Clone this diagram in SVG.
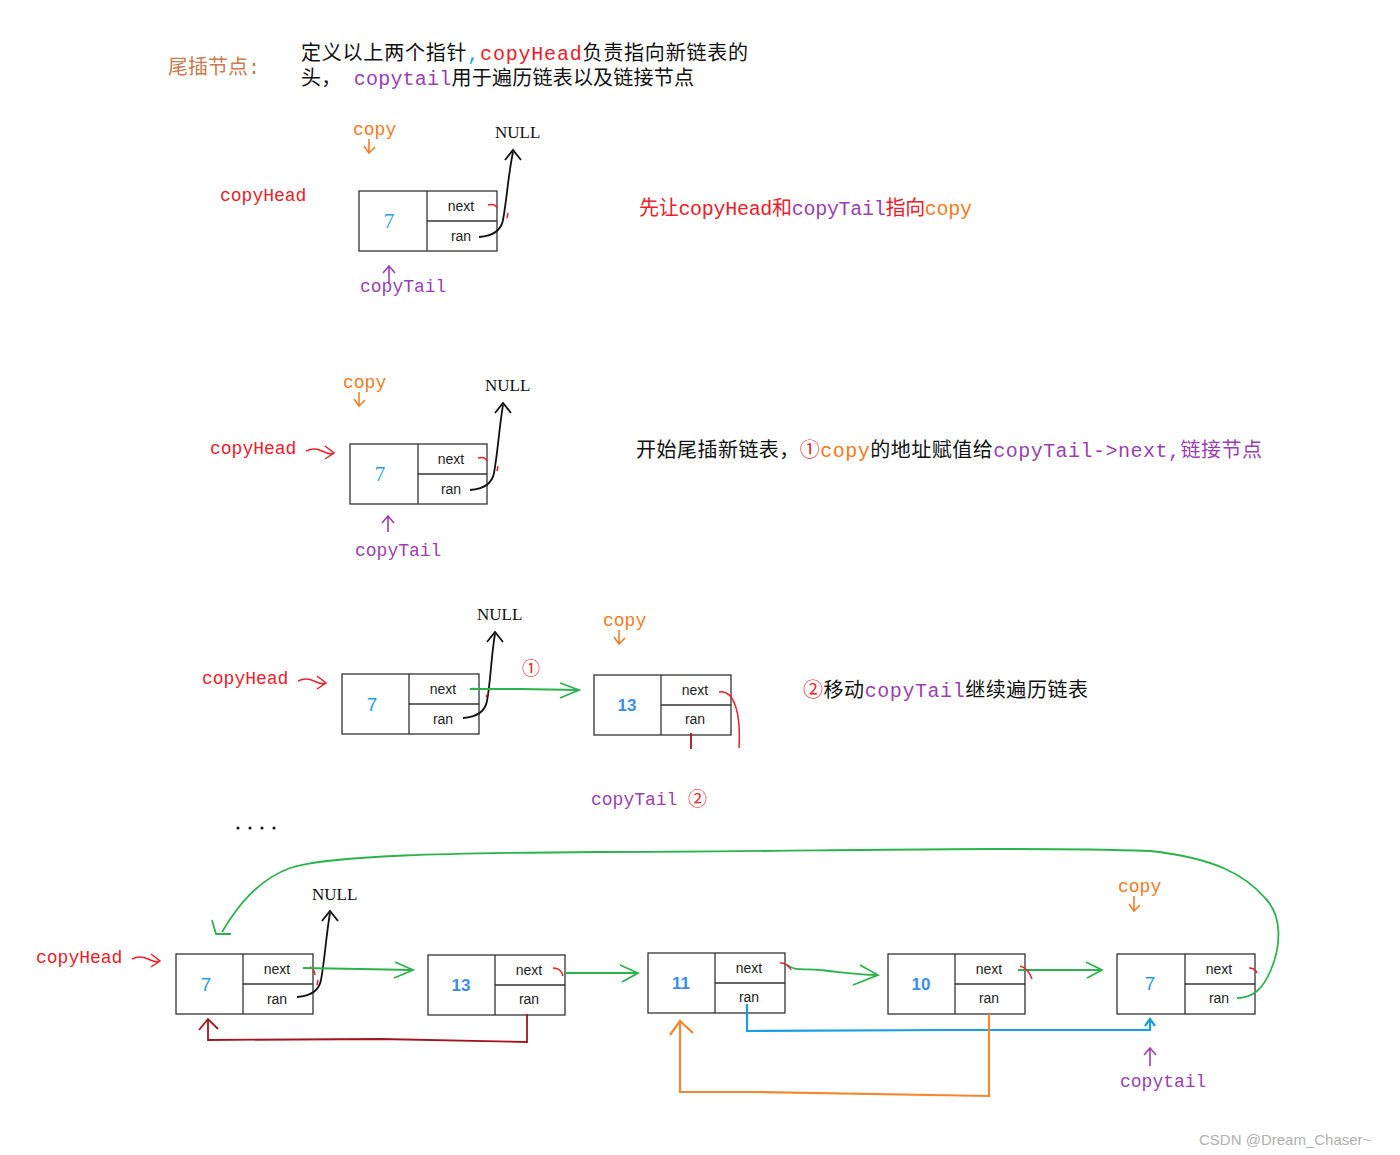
<svg xmlns="http://www.w3.org/2000/svg" width="1400" height="1155" viewBox="0 0 1400 1155">
<defs>
<style>
.cn{font-family:"Liberation Mono","Noto Sans CJK SC",monospace;}
.lbl{font-family:"Liberation Mono","Noto Sans CJK SC",monospace;font-size:18px;}
.null{font-family:"Liberation Serif",serif;font-size:17px;fill:#111;}
.fld{font-family:"Liberation Sans",sans-serif;font-size:14px;fill:#222;text-anchor:middle;}
.v7{font-family:"Liberation Serif",serif;font-size:21px;fill:#1f9ee0;text-anchor:middle;}
.num{font-family:"Liberation Sans",sans-serif;font-size:17px;font-weight:bold;fill:#3a8ee8;text-anchor:middle;}
.box{fill:#fff;stroke:#333;stroke-width:1.3;}
.div{stroke:#333;stroke-width:1.3;}
.red{fill:#e8202a;}
.pur{fill:#9a3fb0;}
.org{fill:#f07a20;}
.blk{fill:#111;}
.c-blk{fill:none;stroke:#111;stroke-width:1.8;}
.c-grn{fill:none;stroke:#2bb24c;stroke-width:1.8;}
.c-red{fill:none;stroke:#e8202a;stroke-width:1.5;}
.c-drd{fill:none;stroke:#a3151c;stroke-width:1.8;}
.c-org{fill:none;stroke:#f5872e;stroke-width:2.2;}
.c-blu{fill:none;stroke:#1a9ee2;stroke-width:2.2;}
.c-pur{fill:none;stroke:#9a3fb0;stroke-width:1.6;}
.c-ora{fill:none;stroke:#f07a20;stroke-width:1.5;}
</style>
</defs>

<!-- header -->
<g id="title">
<text x="168" y="74" class="cn" font-size="20" fill="#c87a50">尾插节点:</text>
<text x="301" y="60" class="cn" font-size="20" textLength="447"><tspan class="blk">定义以上两个指针</tspan><tspan fill="#1f9ee0">,</tspan><tspan class="red">copyHead</tspan><tspan class="blk">负责指向新链表的</tspan></text>
<text x="301" y="85" class="cn" font-size="20" textLength="393"><tspan class="blk">头， </tspan><tspan class="pur">copytail</tspan><tspan class="blk">用于遍历链表以及链接节点</tspan></text>
</g>

<!-- ===== Diagram 1 ===== -->
<g id="d1-node">
<rect x="359" y="191" width="138" height="60" class="box"/>
<line x1="427" y1="191" x2="427" y2="251" class="div"/>
<line x1="427" y1="221" x2="497" y2="221" class="div"/>
<text x="389" y="228" class="v7">7</text>
<text x="461" y="211" class="fld">next</text>
<text x="461" y="241" class="fld">ran</text>
</g>
<g id="d1-labels">
<text x="353" y="135" class="lbl org">copy</text>
<text x="495" y="138" class="null">NULL</text>
<text x="220" y="201" class="lbl red">copyHead</text>
<text x="360" y="292" class="lbl pur">copyTail</text>
<text x="639" y="215" class="cn" font-size="20" textLength="333"><tspan class="red">先让copyHead和</tspan><tspan class="pur">copyTail</tspan><tspan class="red">指向</tspan><tspan class="org">copy</tspan></text>
</g>

<!-- ===== Diagram 2 ===== -->
<g id="d2-node">
<rect x="350" y="444" width="137" height="60" class="box"/>
<line x1="418" y1="444" x2="418" y2="504" class="div"/>
<line x1="418" y1="474" x2="487" y2="474" class="div"/>
<text x="380" y="481" class="v7">7</text>
<text x="451" y="464" class="fld">next</text>
<text x="451" y="494" class="fld">ran</text>
</g>
<g id="d2-labels">
<text x="343" y="388" class="lbl org">copy</text>
<text x="485" y="391" class="null">NULL</text>
<text x="210" y="454" class="lbl red">copyHead</text>
<text x="355" y="556" class="lbl pur">copyTail</text>
<text x="636" y="457" class="cn" font-size="20" textLength="626"><tspan class="blk">开始尾插新链表，</tspan><tspan class="red">①</tspan><tspan class="org">copy</tspan><tspan class="blk">的地址赋值给</tspan><tspan class="pur">copyTail-&gt;next,链接节点</tspan></text>
</g>

<!-- ===== Diagram 3 ===== -->
<g id="d3-node7">
<rect x="342" y="674" width="137" height="60" class="box"/>
<line x1="409" y1="674" x2="409" y2="734" class="div"/>
<line x1="409" y1="704" x2="479" y2="704" class="div"/>
<text x="372" y="711" class="v7" style="font-family:'Liberation Sans',sans-serif;font-size:19px">7</text>
<text x="443" y="694" class="fld">next</text>
<text x="443" y="724" class="fld">ran</text>
</g>
<g id="d3-node13">
<rect x="594" y="675" width="137" height="60" class="box"/>
<line x1="661" y1="675" x2="661" y2="735" class="div"/>
<line x1="661" y1="705" x2="731" y2="705" class="div"/>
<text x="627" y="711" class="num">13</text>
<text x="695" y="695" class="fld">next</text>
<text x="695" y="724" class="fld">ran</text>
</g>
<g id="d3-labels">
<text x="477" y="620" class="null">NULL</text>
<text x="603" y="626" class="lbl org">copy</text>
<text x="202" y="684" class="lbl red">copyHead</text>
<text x="522" y="675" class="cn red" font-size="18">①</text>
<text x="591" y="805" class="lbl pur">copyTail</text>
<text x="688" y="806" class="cn red" font-size="19">②</text>
<text x="803" y="697" class="cn" font-size="20" textLength="285"><tspan class="red">②</tspan><tspan class="blk">移动</tspan><tspan class="pur">copyTail</tspan><tspan class="blk">继续遍历链表</tspan></text>
</g>

<!-- dots -->
<g id="ellipsis" fill="#111">
<circle cx="238" cy="828" r="1.5"/><circle cx="250" cy="828" r="1.5"/><circle cx="262" cy="828" r="1.5"/><circle cx="274" cy="828" r="1.5"/>
</g>

<!-- ===== Bottom diagram ===== -->
<g id="b-nodeA">
<rect x="176" y="954" width="137" height="60" class="box"/>
<line x1="243" y1="954" x2="243" y2="1014" class="div"/>
<line x1="243" y1="984" x2="313" y2="984" class="div"/>
<text x="206" y="991" class="v7" style="font-family:'Liberation Sans',sans-serif;font-size:19px">7</text>
<text x="277" y="974" class="fld">next</text>
<text x="277" y="1004" class="fld">ran</text>
</g>
<g id="b-nodeB">
<rect x="428" y="955" width="137" height="60" class="box"/>
<line x1="495" y1="955" x2="495" y2="1015" class="div"/>
<line x1="495" y1="985" x2="565" y2="985" class="div"/>
<text x="461" y="991" class="num">13</text>
<text x="529" y="975" class="fld">next</text>
<text x="529" y="1004" class="fld">ran</text>
</g>
<g id="b-nodeC">
<rect x="648" y="953" width="137" height="60" class="box"/>
<line x1="715" y1="953" x2="715" y2="1013" class="div"/>
<line x1="715" y1="983" x2="785" y2="983" class="div"/>
<text x="681" y="989" class="num">11</text>
<text x="749" y="973" class="fld">next</text>
<text x="749" y="1002" class="fld">ran</text>
</g>
<g id="b-nodeD">
<rect x="888" y="954" width="137" height="60" class="box"/>
<line x1="955" y1="954" x2="955" y2="1014" class="div"/>
<line x1="955" y1="984" x2="1025" y2="984" class="div"/>
<text x="921" y="990" class="num">10</text>
<text x="989" y="974" class="fld">next</text>
<text x="989" y="1003" class="fld">ran</text>
</g>
<g id="b-nodeE">
<rect x="1117" y="954" width="138" height="60" class="box"/>
<line x1="1185" y1="954" x2="1185" y2="1014" class="div"/>
<line x1="1185" y1="984" x2="1255" y2="984" class="div"/>
<text x="1150" y="990" class="v7" style="font-family:'Liberation Sans',sans-serif;font-size:19px">7</text>
<text x="1219" y="974" class="fld">next</text>
<text x="1219" y="1003" class="fld">ran</text>
</g>
<g id="b-labels">
<text x="312" y="900" class="null">NULL</text>
<text x="36" y="963" class="lbl red">copyHead</text>
<text x="1118" y="892" class="lbl org">copy</text>
<text x="1120" y="1087" class="lbl pur">copytail</text>
</g>

<!-- ===== Connectors ===== -->
<g id="connectors">
<!-- diagram 1 -->
<path d="M369,139 L369,153 M364,146 L369,153 L375,147" class="c-ora"/>
<path d="M479,237 C493,236 501,231 503,220 C507,198 508,176 513,152" class="c-blk"/>
<path d="M505,160 L513,150 L521,160" class="c-blk"/>
<path d="M488,205 Q495,203 497,208 M508,213 L507,218" class="c-red"/>
<path d="M389,284 L389,267 M383,273 L389,266 L395,273" class="c-pur"/>
<!-- diagram 2 -->
<path d="M359,392 L359,406 M354,399 L359,406 L365,400" class="c-ora"/>
<path d="M470,490 C484,489 492,484 494,473 C498,451 499,429 503,405" class="c-blk"/>
<path d="M495,413 L503,403 L511,413" class="c-blk"/>
<path d="M478,458 Q485,456 487,461 M498,466 L497,471" class="c-red"/>
<path d="M306,451 Q314,447 322,451 T334,453 M325,446 L334,453 L325,459" class="c-red"/>
<path d="M388,532 L388,516 M382,523 L388,516 L394,523" class="c-pur"/>
<!-- diagram 3 -->
<path d="M463,718 C477,717 485,712 487,701 C491,679 491,657 495,634" class="c-blk"/>
<path d="M487,642 L495,632 L503,642" class="c-blk"/>
<path d="M470,689 Q474,688 478,689 M488,693 L486,697" class="c-red"/>
<path d="M470,689 L520,689 L578,690" class="c-grn"/>
<path d="M560,683 L579,690 L560,698" class="c-grn"/>
<path d="M298,681 Q306,677 314,681 T326,683 M317,676 L326,683 L317,689" class="c-red"/>
<path d="M619,630 L619,644 M614,637 L619,644 L625,638" class="c-ora"/>
<path d="M719,692 C734,690 741,712 739,748" class="c-red"/>
<path d="M691,733 L691,749" class="c-drd"/>
<!-- bottom: NULL pointer -->
<path d="M297,997 C311,996 319,991 321,980 C325,958 326,936 330,913" class="c-blk"/>
<path d="M322,921 L330,911 L338,921" class="c-blk"/>
<path d="M310,967 Q314,968 315,975 M318,980 L317,985" class="c-red"/>
<!-- copyHead arrow -->
<path d="M132,959 Q140,955 148,959 T160,961 M151,954 L160,961 L151,967" class="c-red"/>
<!-- next links -->
<path d="M303,968 L360,969 L413,970" class="c-grn"/>
<path d="M395,962 L413,970 L394,978" class="c-grn"/>
<path d="M565,973 L638,973" class="c-grn"/>
<path d="M620,965 L638,973 L622,982" class="c-grn"/>
<path d="M553,968 Q561,968 563,976" class="c-red"/>
<path d="M787,965 C796,972 805,968 820,970 C840,972 855,975 878,975" class="c-grn"/>
<path d="M860,965 L878,975 L853,985" class="c-grn"/>
<path d="M780,963 Q787,962 791,970" class="c-red"/>
<path d="M1018,970 L1102,970" class="c-grn"/>
<path d="M1086,962 L1102,970 L1087,978" class="c-grn"/>
<path d="M1020,966 Q1028,968 1032,979" class="c-red"/>
<path d="M1249,968 Q1255,968 1257,973" class="c-red"/>
<!-- big loop E.next -> A -->
<path d="M1237,998 C1252,998 1262,990 1270,972 C1282,945 1282,915 1265,898 C1245,875 1215,858 1150,851 C1000,846 800,852 600,852 C450,853 330,855 290,868 C258,880 238,905 222,932" class="c-grn"/>
<path d="M212,920 L216,934 L231,934" class="c-grn"/>
<!-- random pointers -->
<path d="M527,1014 L527,1042 L380,1039 L208,1040 L208,1020" class="c-drd"/>
<path d="M199,1030 L208,1019 L218,1029" class="c-drd"/>
<path d="M747,1004 L747,1031 L950,1030 L1150,1030 L1150,1021" class="c-blu"/>
<path d="M1145,1026 L1150,1019 L1155,1026" class="c-blu" stroke-width="1.6"/>
<path d="M989,1014 L989,1096 L753,1092 L680,1092 L680,1022" class="c-org"/>
<path d="M670,1035 L680,1021 L693,1033" class="c-org"/>
<!-- copy / copytail arrows -->
<path d="M1134,896 L1134,911 M1129,904 L1134,911 L1140,905" class="c-ora"/>
<path d="M1150,1066 L1150,1048 M1144,1055 L1150,1048 L1156,1055" class="c-pur"/>
</g>

<text x="1199" y="1145" font-family="Liberation Sans,sans-serif" font-size="15" fill="#b0b0b0">CSDN @Dream_Chaser~</text>
</svg>
